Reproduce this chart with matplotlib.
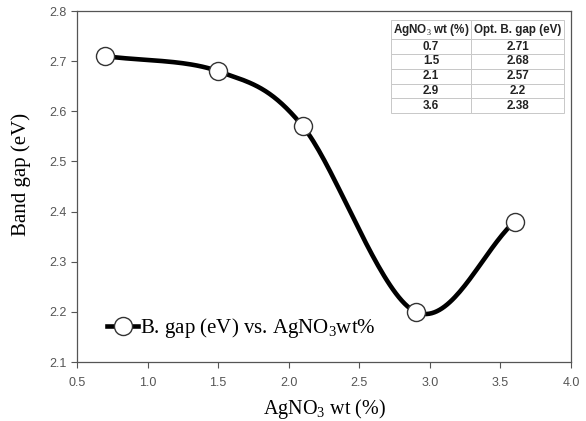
import matplotlib
matplotlib.use('Agg')
import matplotlib.pyplot as plt
import numpy as np

agno3 = [0.7, 1.5, 2.1, 2.9, 3.6]
band_gap = [2.71, 2.68, 2.57, 2.2, 2.38]
table_header = ['AgNO$_3$ wt (%)', 'Opt. B. gap (eV)']
table_rows = [['0.7', '2.71'], ['1.5', '2.68'], ['2.1', '2.57'], ['2.9', '2.2'], ['3.6', '2.38']]

plt.rcParams['mathtext.fontset'] = 'custom'
plt.rcParams['mathtext.rm'] = 'Liberation Serif'


def smooth_line(x, y, n=40):
    # Catmull-Rom style smoothing, like the spreadsheet "smoothed line"
    x = np.asarray(x, float)
    y = np.asarray(y, float)
    px = np.concatenate([[2 * x[0] - x[1]], x, [2 * x[-1] - x[-2]]])
    py = np.concatenate([[2 * y[0] - y[1]], y, [2 * y[-1] - y[-2]]])
    xs, ys = [], []
    t = np.linspace(0, 1, n)
    for i in range(1, len(px) - 2):
        p0, p1, p2, p3 = [np.array([px[k], py[k]]) for k in (i - 1, i, i + 1, i + 2)]
        c1 = p1 + (p2 - p0) / 6
        c2 = p2 - (p3 - p1) / 6
        pts = ((1 - t)[:, None] ** 3 * p1 + 3 * ((1 - t) ** 2 * t)[:, None] * c1
               + 3 * ((1 - t) * t ** 2)[:, None] * c2 + (t ** 3)[:, None] * p2)
        xs.extend(pts[:, 0])
        ys.extend(pts[:, 1])
    return xs, ys


fig = plt.figure(figsize=(5.86, 4.21), dpi=100)
ax = fig.add_axes([0.1314, 0.1401, 0.843, 0.8337])

sx, sy = smooth_line(agno3, band_gap)
ax.plot(sx, sy, color='black', lw=3.3, zorder=2)
ax.plot(agno3, band_gap, 'o', ms=13, mfc='white', mec='#333333', mew=1.0, zorder=3)
# legend handle
ax.plot([], [], '-o', color='black', lw=3.3, ms=13, mfc='white', mec='#333333', mew=1.0,
        label='B. gap (eV) vs. AgNO$_3$wt%')

ax.set_xlim(0.5, 4.0)
ax.set_ylim(2.1, 2.8)
xt = np.arange(0.5, 4.01, 0.5)
yt = np.arange(2.1, 2.81, 0.1)
ax.set_xticks(xt)
ax.set_yticks(yt)
ax.set_xticklabels(['%.1f' % v for v in xt])
ax.set_yticklabels(['%.1f' % v for v in yt])
ax.tick_params(direction='out', length=4.5, width=0.8, colors='#555555', labelsize=9,
               labelcolor='#555555')
ax.tick_params(axis='x', pad=6)
ax.tick_params(axis='y', pad=3)
for lab in ax.get_xticklabels() + ax.get_yticklabels():
    lab.set_fontfamily('Liberation Sans')
for s in ax.spines.values():
    s.set_color('#555555')
    s.set_linewidth(0.9)

ax.set_xlabel('AgNO$_3$ wt (%)', fontfamily='Liberation Serif', fontsize=14.5, labelpad=6)
ax.set_ylabel('Band gap (eV)', fontfamily='Liberation Serif', fontsize=15, labelpad=9)
ax.yaxis.set_label_coords(-0.093, 0.535)

leg = ax.legend(loc='center left', bbox_to_anchor=(0.061, 0.097), frameon=False,
                prop={'family': 'Liberation Serif', 'size': 15},
                handlelength=1.5, handletextpad=0.1, borderpad=0, borderaxespad=0)

tab = ax.table(cellText=table_rows, colLabels=table_header, cellLoc='center',
               colWidths=[0.462, 0.538], bbox=[0.636, 0.709, 0.350, 0.265])
tab.auto_set_font_size(False)
for (r, c), cell in tab.get_celld().items():
    cell.set_edgecolor('#c8c8c8')
    cell.set_linewidth(0.7)
    cell.set_height(19 if r == 0 else 14.8)
    cell.get_text().set_fontsize(8.4)
    cell.get_text().set_fontweight('bold')
    cell.get_text().set_fontfamily('Liberation Sans')
    cell.get_text().set_color('#222222')

fig.savefig('out.png', dpi=100)
